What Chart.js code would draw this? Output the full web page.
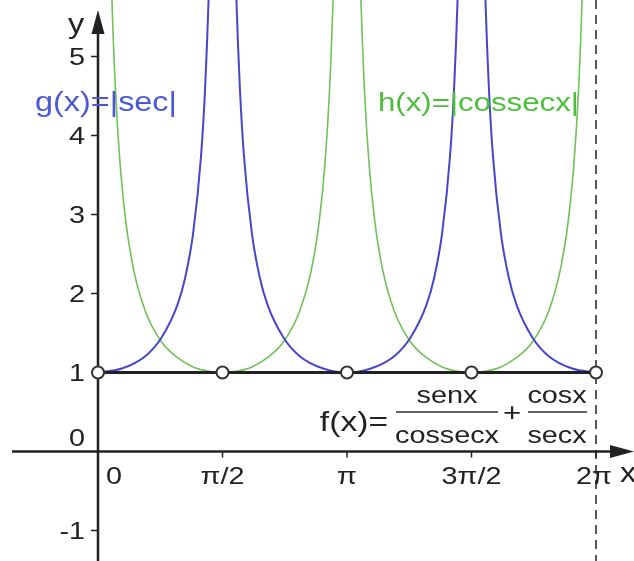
<!DOCTYPE html>
<html>
<head>
<meta charset="utf-8">
<script src="https://cdn.jsdelivr.net/npm/chart.js@4.4.1/dist/chart.umd.min.js"></script>
<style>
  html, body { margin: 0; padding: 0; background: #fff; }
  #wrap { width: 634px; height: 561px; }
</style>
</head>
<body>
<div id="wrap"><canvas id="myChart" width="634" height="561"></canvas></div>
<script>
// g(x) = |sec x| (null = asymptote gap)
const secX = [0, 0.3, 0.6, 0.8, 1.0, 1.1, 1.2, 1.3, 1.35, 1.40, 1.43,
  1.5708,
  1.7116, 1.7416, 1.7916, 1.8416, 1.9416, 2.0416, 2.1416, 2.3416, 2.5416, 2.8416, 3.1416,
  3.4416, 3.7416, 3.9416, 4.1416, 4.2416, 4.3416, 4.4416, 4.4916, 4.5416, 4.5716,
  4.7124,
  4.8532, 4.8832, 4.9332, 4.9832, 5.0832, 5.1832, 5.2832, 5.4832, 5.6832, 5.9832, 6.2832];
const secY = [1.00, 1.05, 1.21, 1.44, 1.85, 2.20, 2.76, 3.74, 4.57, 5.88, 7.13,
  null,
  7.13, 5.88, 4.57, 3.74, 2.76, 2.20, 1.85, 1.44, 1.21, 1.05, 1.00,
  1.05, 1.21, 1.44, 1.85, 2.20, 2.76, 3.74, 4.57, 5.88, 7.13,
  null,
  7.13, 5.88, 4.57, 3.74, 2.76, 2.20, 1.85, 1.44, 1.21, 1.05, 1.00];

// h(x) = |cossec x|
const cscX = [0.14, 0.17, 0.22, 0.28, 0.35, 0.45, 0.6, 0.8, 1.0, 1.2, 1.4, 1.5708,
  1.7416, 1.9416, 2.1416, 2.3416, 2.5416, 2.6916, 2.7916, 2.8616, 2.9216, 2.9716, 3.0016,
  3.1416,
  3.2816, 3.3116, 3.3616, 3.4216, 3.4916, 3.5916, 3.7416, 3.9416, 4.1416, 4.3416, 4.5416, 4.7124,
  4.8832, 5.0832, 5.2832, 5.4832, 5.6832, 5.8332, 5.9332, 6.0032, 6.0632, 6.1132, 6.1432];
const cscY = [7.17, 5.91, 4.58, 3.62, 2.92, 2.30, 1.77, 1.39, 1.19, 1.07, 1.015, 1.00,
  1.015, 1.07, 1.19, 1.39, 1.77, 2.30, 2.92, 3.62, 4.58, 5.91, 7.17,
  null,
  7.17, 5.91, 4.58, 3.62, 2.92, 2.30, 1.77, 1.39, 1.19, 1.07, 1.015, 1.00,
  1.015, 1.07, 1.19, 1.39, 1.77, 2.30, 2.92, 3.62, 4.58, 5.91, 7.17];

// f(x) = 1 with holes
const fX = [0, 6.2832];
const fY = [1, 1];
const holeX = [0, 1.5708, 3.1416, 4.7124, 6.2832];
const holeY = [1, 1, 1, 1, 1];

const xTicks = [0, 1.5708, 3.1416, 4.7124, 6.2832];
const xTickLabels = ['0', 'π/2', 'π', '3π/2', '2π'];
const yTicks = [-1, 0, 1, 2, 3, 4, 5];

const toPoints = (xs, ys) => xs.map((x, i) => ({ x: x, y: ys[i] }));

const FONT = '"Liberation Sans", Arial, sans-serif';
const STRETCH = 1.2;

// text slightly stretched sideways like the original picture
function wideText(ctx, t, x, y, size, align, color) {
  ctx.save();
  ctx.font = size + 'px ' + FONT;
  ctx.fillStyle = color;
  const w = ctx.measureText(t).width * STRETCH;
  let left = x;
  if (align === 'center') left = x - w / 2;
  if (align === 'right') left = x - w;
  ctx.translate(left, y);
  ctx.scale(STRETCH, 1);
  ctx.textAlign = 'left';
  ctx.fillText(t, 0, 0);
  ctx.restore();
  return w;
}

const axesPlugin = {
  id: 'axes',
  beforeDatasetsDraw(chart) {
    const ctx = chart.ctx;
    const xs = chart.scales.x, ys = chart.scales.y;
    const x0 = xs.getPixelForValue(0), y0 = ys.getPixelForValue(0);
    const area = chart.chartArea;
    ctx.save();
    ctx.strokeStyle = '#222';
    ctx.fillStyle = '#222';
    ctx.lineWidth = 2.5;
    // x axis
    ctx.beginPath();
    ctx.moveTo(12, y0);
    ctx.lineTo(area.right - 20, y0);
    ctx.stroke();
    ctx.beginPath();
    ctx.moveTo(area.right, y0);
    ctx.lineTo(area.right - 24, y0 - 6.5);
    ctx.lineTo(area.right - 24, y0 + 6.5);
    ctx.closePath();
    ctx.fill();
    // y axis
    ctx.beginPath();
    ctx.moveTo(x0, area.bottom);
    ctx.lineTo(x0, 30);
    ctx.stroke();
    ctx.beginPath();
    ctx.moveTo(x0, 10);
    ctx.lineTo(x0 - 6.5, 34);
    ctx.lineTo(x0 + 6.5, 34);
    ctx.closePath();
    ctx.fill();
    // ticks
    ctx.lineWidth = 1.5;
    xTicks.forEach(v => {
      const px = xs.getPixelForValue(v);
      ctx.beginPath();
      ctx.moveTo(px, y0);
      ctx.lineTo(px, y0 + 6);
      ctx.stroke();
    });
    yTicks.forEach(v => {
      if (v === 0) return;
      const py = ys.getPixelForValue(v);
      ctx.beginPath();
      ctx.moveTo(x0 - 7, py);
      ctx.lineTo(x0, py);
      ctx.stroke();
    });
    // dashed asymptote at 2pi
    const xr = xs.getPixelForValue(6.2832);
    ctx.setLineDash([9, 6]);
    ctx.lineWidth = 1.5;
    ctx.beginPath();
    ctx.moveTo(xr, area.top);
    ctx.lineTo(xr, area.bottom);
    ctx.stroke();
    ctx.restore();
  },
  afterDatasetsDraw(chart) {
    const ctx = chart.ctx;
    const xs = chart.scales.x, ys = chart.scales.y;
    const x0 = xs.getPixelForValue(0), y0 = ys.getPixelForValue(0);
    ctx.save();
    ctx.textBaseline = 'middle';
    // tick labels
    xTicks.forEach((v, i) => {
      let px = xs.getPixelForValue(v);
      if (v === 0) px += 16;
      if (i === xTicks.length - 1) px -= 2;
      wideText(ctx, xTickLabels[i], px, y0 + 26, 24, 'center', '#222');
    });
    yTicks.forEach(v => {
      let py = ys.getPixelForValue(v) + 2;
      if (v === 0) py = y0 - 12;
      wideText(ctx, String(v), x0 - 13, py, 24, 'right', '#222');
    });
    ctx.textBaseline = 'alphabetic';
    wideText(ctx, 'y', 76, 33, 27, 'center', '#222');
    wideText(ctx, 'x', 620, 482, 27, 'left', '#222');

    // function labels
    ctx.textBaseline = 'middle';
    wideText(ctx, 'g(x)=|sec|', 35, 104, 27, 'left', '#4a58d6');
    wideText(ctx, 'h(x)=|cossecx|', 378, 104, 26, 'left', '#4cbf3a');

    // f(x) formula
    const barY = 412;
    wideText(ctx, 'f(x)=', 388, 423, 28, 'right', '#222');
    ctx.strokeStyle = '#333';
    ctx.lineWidth = 1.5;
    ctx.beginPath();
    ctx.moveTo(396, barY); ctx.lineTo(498, barY);
    ctx.moveTo(528, barY); ctx.lineTo(587, barY);
    ctx.stroke();
    wideText(ctx, 'senx', 447, 396, 24, 'center', '#222');
    wideText(ctx, 'cossecx', 447, 436, 24, 'center', '#222');
    wideText(ctx, '+', 512, 414, 26, 'center', '#222');
    wideText(ctx, 'cosx', 557, 396, 24, 'center', '#222');
    wideText(ctx, 'secx', 557, 436, 24, 'center', '#222');
    ctx.restore();
  }
};

const ctx = document.getElementById('myChart');
const mychart = new Chart(ctx, {
  type: 'scatter',
  data: {
    datasets: [
      {
        label: 'holes',
        data: toPoints(holeX, holeY),
        pointRadius: 6,
        pointBackgroundColor: '#fff',
        pointBorderColor: '#333',
        pointBorderWidth: 2,
        showLine: false,
        order: 0,
      },
      {
        label: 'f(x)',
        data: toPoints(fX, fY),
        showLine: true,
        borderColor: '#222',
        borderWidth: 3,
        pointRadius: 0,
        order: 1,
      },
      {
        label: 'g(x)=|sec|',
        data: toPoints(secX, secY),
        showLine: true,
        spanGaps: false,
        borderColor: '#4646cc',
        borderWidth: 2,
        pointRadius: 0,
        cubicInterpolationMode: 'monotone',
        order: 2,
      },
      {
        label: 'h(x)=|cossecx|',
        data: toPoints(cscX, cscY),
        showLine: true,
        spanGaps: false,
        borderColor: '#72c05a',
        borderWidth: 1.6,
        pointRadius: 0,
        cubicInterpolationMode: 'monotone',
        order: 3,
      },
    ],
  },
  options: {
    responsive: false,
    animation: false,
    layout: { padding: 0, autoPadding: false },
    plugins: { legend: { display: false }, tooltip: { enabled: false } },
    scales: {
      x: { type: 'linear', display: false, min: -1.2364, max: 6.7626 },
      y: { type: 'linear', display: false, min: -1.3861, max: 5.7152 },
    },
  },
  plugins: [axesPlugin],
});
</script>
</body>
</html>
